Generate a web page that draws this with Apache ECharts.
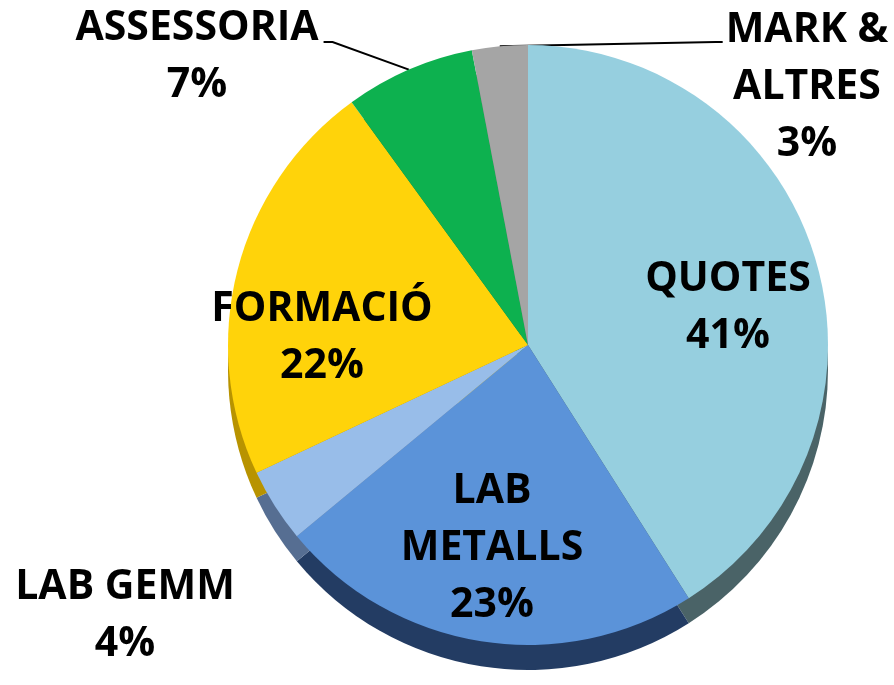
<!DOCTYPE html>
<html>
<head>
<meta charset="utf-8">
<script src="https://cdn.jsdelivr.net/npm/echarts@6/dist/echarts.min.js"></script>
<style>
html,body{margin:0;padding:0;background:#fff;}
#chart{width:894px;height:685px;}
</style>
</head>
<body>
<div id="chart"></div>
<script>
// ---- data ----
const categories = ['QUOTES', 'LAB METALLS', 'LAB GEMM', 'FORMACIÓ', 'ASSESSORIA', 'MARK & ALTRES'];
const labelTexts = ['QUOTES', 'LAB\nMETALLS', 'LAB GEMM', 'FORMACIÓ', 'ASSESSORIA', 'MARK &\nALTRES'];
const values = [41, 23, 4, 22, 7, 3];

// ---- styles / layout ----
const topColors = ['#96cfdf', '#5b93d9', '#98bde9', '#ffd30a', '#0db14f', '#a5a5a5'];
const sideColors = ['#4a6367', '#233c63', '#566e92', '#b89300', '#087a37', '#6e6e6e'];
const CX = 528, CY = 345, R = 300, DEPTH = 25;
const labelPos = [[728, 308], [492, 548], [125, 616], [322, 338], [197, 57], [807, 87]];
const insideIdx = [0, 1, 3];

const chart = echarts.init(document.getElementById('chart'), null, {renderer: 'canvas'});

const total = values.reduce((a, b) => a + b, 0);
function edgePoint(i) {
  let before = 0;
  for (let k = 0; k < i; k++) before += values[k];
  const mid = (before + values[i] / 2) / total * Math.PI * 2; // clockwise from top
  return [CX + R * Math.sin(mid), CY - R * Math.cos(mid)];
}

const topData = categories.map((name, i) => ({
  name: name,
  value: values[i],
  itemStyle: {color: topColors[i]},
  label: {
    position: insideIdx.includes(i) ? 'inside' : 'outside'
  },
  labelLine: {show: i === 4 || i === 5}
}));

const sideData = categories.map((name, i) => ({
  name: name,
  value: values[i],
  itemStyle: {color: sideColors[i]}
}));

chart.setOption({
  backgroundColor: '#ffffff',
  animation: false,
  series: [
    {
      type: 'pie',
      name: 'side',
      center: [CX, CY + DEPTH],
      radius: R,
      startAngle: 90,
      clockwise: true,
      silent: true,
      z: 1,
      label: {show: false},
      labelLine: {show: false},
      itemStyle: {borderWidth: 0},
      data: sideData
    },
    {
      type: 'pie',
      name: 'top',
      center: [CX, CY],
      radius: R,
      startAngle: 90,
      clockwise: true,
      avoidLabelOverlap: false,
      z: 2,
      itemStyle: {borderWidth: 0},
      label: {
        show: true,
        color: '#000',
        fontFamily: 'Open Sans',
        fontWeight: 'bold',
        fontSize: 41,
        lineHeight: 57,
        align: 'center',
        formatter: (p) => labelTexts[p.dataIndex] + '\n' + p.value + '%'
      },
      labelLine: {
        show: true,
        length: 20,
        length2: 10,
        smooth: false,
        lineStyle: {color: '#000', width: 2}
      },
      labelLayout: function (params) {
        if (params.seriesIndex !== 1) return {};
        const i = params.dataIndex;
        const pos = labelPos[i];
        const w = params.labelRect.width;
        const res = {x: pos[0], y: pos[1], align: 'center', verticalAlign: 'middle'};
        const p0 = (params.labelLinePoints && params.labelLinePoints[0]) || edgePoint(i);
        if (i === 4) {
          const right = pos[0] + w / 2;
          const ly = pos[1] - 15;
          res.labelLinePoints = [p0, [right + 14, ly], [right + 5, ly]];
        } else if (i === 5) {
          const left = pos[0] - w / 2;
          const ly = pos[1] - 45;
          res.labelLinePoints = [p0, [left - 10, ly], [left - 3, ly]];
        }
        return res;
      },
      data: topData
    }
  ]
});
</script>
</body>
</html>
